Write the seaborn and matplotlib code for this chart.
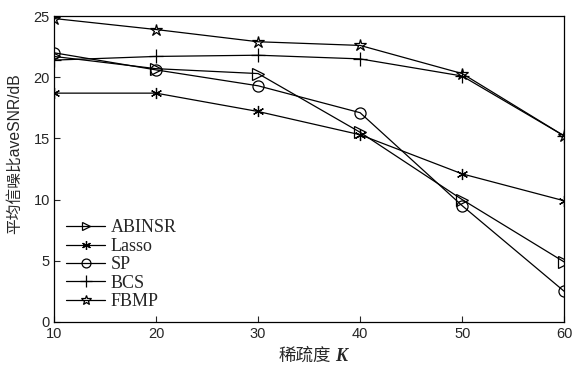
import matplotlib
matplotlib.use("Agg")
import matplotlib.pyplot as plt
import seaborn as sns
import pandas as pd

K = [10, 20, 30, 40, 50, 60]
abinsr = [21.7, 20.7, 20.3, 15.5, 10.0, 4.9]
lasso = [18.7, 18.7, 17.2, 15.3, 12.1, 9.9]
sp = [22.0, 20.6, 19.3, 17.1, 9.5, 2.5]
bcs = [21.4, 21.7, 21.8, 21.5, 20.1, 15.2]
fbmp = [24.8, 23.9, 22.9, 22.6, 20.3, 15.2]
names = ["ABINSR", "Lasso", "SP", "BCS", "FBMP"]
series = [abinsr, lasso, sp, bcs, fbmp]
xticks = [10, 20, 30, 40, 50, 60]
yticks = [0, 5, 10, 15, 20, 25]

sns.set_style("white")
plt.rcParams["font.family"] = ["Liberation Sans", "Noto Sans CJK SC"]

fig = plt.figure(figsize=(5.74, 3.65), dpi=100)
ax = fig.add_axes([0.094, 0.118, 0.889, 0.838])

markers = {"ABINSR": ">", "Lasso": (6, 2, 0), "SP": "o", "BCS": "+", "FBMP": "*"}
msize = {"ABINSR": 8, "Lasso": 8, "SP": 8, "BCS": 10, "FBMP": 9}

for name, vals in zip(names, series):
    df = pd.DataFrame({"K": K, "v": vals})
    sns.lineplot(data=df, x="K", y="v", ax=ax, color="black", lw=0.9,
                 marker=markers[name], markersize=msize[name],
                 markerfacecolor="none", markeredgecolor="black",
                 markeredgewidth=0.9, label=name)

ax.set_xlim(10, 60)
ax.set_ylim(0, 25)
ax.set_xticks(xticks)
ax.set_yticks(yticks)
ax.tick_params(direction="in", length=4, width=0.8, labelsize=10.5,
               bottom=True, left=True, top=False, right=False)
ax.tick_params(axis="x", pad=4)
ax.tick_params(axis="y", pad=3)
for s in ax.spines.values():
    s.set_color("black")
    s.set_linewidth(0.9)

ax.set_xlabel("")
ax.text(0.543, -0.112, "稀疏度", transform=ax.transAxes, ha="right", va="center",
        fontsize=12.6, family=["Noto Sans CJK SC", "DejaVu Sans"])
ax.text(0.551, -0.112, "K", transform=ax.transAxes, ha="left", va="center",
        fontsize=13, family="Liberation Serif", style="italic", weight="bold")
ax.set_ylabel("平均信噪比aveSNR/dB", fontsize=11.3,
              family=["Liberation Sans", "Noto Sans CJK SC"])
ax.yaxis.set_label_coords(-0.062, 0.55)

leg = ax.legend(loc="lower left", bbox_to_anchor=(0.0, 0.0), frameon=False,
                prop={"family": "Liberation Serif", "size": 13},
                handlelength=2.2, handletextpad=0.3, labelspacing=0.08,
                borderaxespad=0.25, markerscale=0.8)

fig.savefig("out.png", dpi=100)
